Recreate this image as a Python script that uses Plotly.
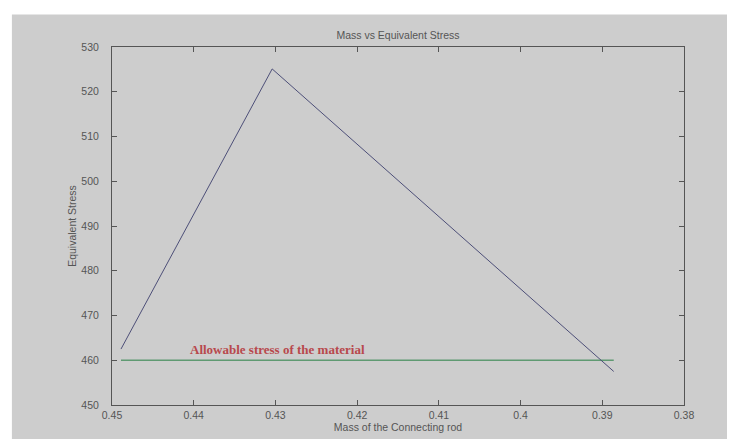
import plotly.graph_objects as go

mass = [0.4489, 0.4304, 0.3886]
stress = [462.5, 525.1, 457.5]
allow_x = [0.4489, 0.3886]
allow_y = [460, 460]
x_ticks = [0.45, 0.44, 0.43, 0.42, 0.41, 0.40, 0.39, 0.38]
x_labels = ["0.45", "0.44", "0.43", "0.42", "0.41", "0.4", "0.39", "0.38"]
y_ticks = [450, 460, 470, 480, 490, 500, 510, 520, 530]

bg = "#cdcdcd"
txt = "#555555"

fig = go.Figure()
fig.add_trace(go.Scatter(x=allow_x, y=allow_y, mode="lines",
                         line=dict(color="#5f9a72", width=1.3), showlegend=False))
fig.add_trace(go.Scatter(x=mass, y=stress, mode="lines",
                         line=dict(color="#4d4f78", width=1.0), showlegend=False))

fig.add_annotation(x=0.4407, y=462.4, xref="x", yref="y", xanchor="left", yanchor="middle",
                   text="<b>Allowable stress of the material</b>", showarrow=False,
                   font=dict(family="Liberation Serif", size=13, color="#b8484c"))

axis_common = dict(showgrid=False, zeroline=False, ticks="inside", ticklen=5,
                   tickcolor="#555555", linecolor="#555555", linewidth=1, mirror="ticks",
                   showline=True, tickfont=dict(family="Liberation Sans", size=10.5, color=txt))

fig.update_xaxes(range=[0.45, 0.38], tickvals=x_ticks, ticktext=x_labels,
                 title=dict(text="Mass of the Connecting rod", standoff=4,
                            font=dict(family="Liberation Sans", size=10.5, color=txt)),
                 **axis_common)
fig.update_yaxes(range=[450, 530], tickvals=y_ticks, ticklabelstandoff=10,
                 title=dict(text="Equivalent Stress", standoff=2,
                            font=dict(family="Liberation Sans", size=10.5, color=txt)),
                 **axis_common)

fig.add_shape(type="rect", xref="paper", yref="paper", x0=-0.175, x1=1.2, y0=-0.2, y1=1.0905,
              fillcolor=bg, line=dict(width=0), layer="below")

fig.update_layout(
    width=735, height=439,
    margin=dict(l=104, r=59, t=39, b=42),
    paper_bgcolor="white", plot_bgcolor=bg,
    title=dict(text="Mass vs Equivalent Stress", x=(104 + 676) / 2 / 735, xanchor="center",
               y=1 - 27 / 439, yanchor="middle",
               font=dict(family="Liberation Sans", size=10.5, color=txt)),
)

fig.write_html("out.html")
